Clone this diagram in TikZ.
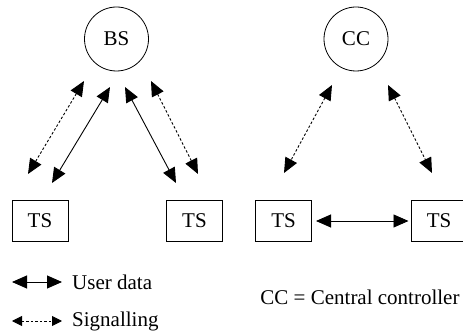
\documentclass[tikz,border=0pt]{standalone}
\usepackage{fontspec}
\setmainfont{Liberation Serif}
\usetikzlibrary{positioning, arrows.meta, calc}

\begin{document}
\begin{tikzpicture}[x=1pt, y=-1pt]
	\tikzset{
		station/.style={circle, draw, line width=0.8pt, minimum size=64pt, inner sep=0pt, font=\fontsize{21}{25}\selectfont},
		terminal/.style={rectangle, draw, line width=1pt, minimum width=56pt, minimum height=41pt, inner sep=0pt, font=\fontsize{21}{25}\selectfont},
		data/.style={line width=0.9pt, {Triangle[length=15pt,width=13pt]}-{Triangle[length=15pt,width=13pt]}},
		sig/.style={line width=0.9pt, dash pattern=on 2.5pt off 2pt, {Triangle[length=15pt,width=13pt]}-{Triangle[length=15pt,width=13pt]}},
		sigsmall/.style={line width=0.9pt, dash pattern=on 2.5pt off 2pt, {Triangle[length=10pt,width=10pt]}-{Triangle[length=10pt,width=10pt]}},
		legend/.style={anchor=west, inner sep=0pt, font=\fontsize{21}{25}\selectfont}
	}
	\useasboundingbox (0,0) rectangle (463,336);
	
	\node[station] (bs) at (116.5,39) {BS};
	\node[station] (cc) at (356,39) {CC};
	\foreach \n/\x in {1/40, 2/194.5, 3/283.5, 4/439} {
		\node[terminal] (ts\n) at (\x,221) {TS};
	}
	
	% BS <-> TS
	\coordinate (bs-s1) at (84,81);  \coordinate (ts1-s) at (28,174);
	\coordinate (bs-d1) at (110,87); \coordinate (ts1-d) at (52,183);
	\coordinate (bs-d2) at (125,87); \coordinate (ts2-d) at (176,183);
	\coordinate (bs-s2) at (151,81); \coordinate (ts2-s) at (198,174);
	\draw[sig] (bs-s1) -- (ts1-s);
	\draw[data] (bs-d1) -- (ts1-d);
	\draw[data] (bs-d2) -- (ts2-d);
	\draw[sig] (bs-s2) -- (ts2-s);
	
	% CC <-> TS
	\coordinate (cc-s1) at (332,85); \coordinate (ts3-s) at (284,173);
	\coordinate (cc-s2) at (388,85); \coordinate (ts4-s) at (432,173);
	\draw[sig] (cc-s1) -- (ts3-s);
	\draw[sig] (cc-s2) -- (ts4-s);
	\draw[data, shorten <=4pt, shorten >=2pt] (ts3) -- (ts4);
	
	% legend
	\node[legend] (ud) at (72,282) {User data};
	\node[legend] (sg) at (72,321) {Signalling};
	\node[legend, anchor=center] (note) at (360,297) {CC = Central controller};
	\coordinate (ud-a) at (12,282); \coordinate (ud-b) at (62,282);
	\coordinate (sg-a) at (12,321); \coordinate (sg-b) at (62,321);
	\draw[data] (ud-a) -- (ud-b);
	\draw[sigsmall] (sg-a) -- (sg-b);
\end{tikzpicture}
\end{document}
